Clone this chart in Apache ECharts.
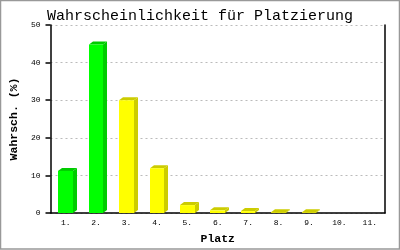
<!DOCTYPE html>
<html><head><meta charset="utf-8">
<script src="https://cdn.jsdelivr.net/npm/echarts@6/dist/echarts.min.js"></script>
<style>html,body{margin:0;padding:0;background:#fff}#c{width:400px;height:250px}</style>
</head><body><div id="c"></div>
<script>
const categories = ['1.','2.','3.','4.','5.','6.','7.','8.','9.','10.','11.'];
const values = [11.2, 44.8, 30.0, 11.9, 2.1, 0.7, 0.5, 0.2, 0.2, 0, 0];
const yTicks = [0, 10, 20, 30, 40, 50];
const greenCount = 2;

const chart = echarts.init(document.getElementById('c'), null, {renderer:'canvas'});
const mono = 'Liberation Mono, DejaVu Sans Mono, monospace';

function renderItem(params, api){
  const i = api.value(0), v = api.value(1);
  if (!v) return null;
  const base = api.coord([i, 0]);
  const top = api.coord([i, v]);
  const bw = api.size([1, 0])[0] * 0.48;
  const dx = 4, dy = 3;
  const l = Math.round(base[0] - bw/2), r = Math.round(base[0] + bw/2);
  const b = base[1], t = top[1];
  const green = params.dataIndex < greenCount;
  const front = green ? '#00ff00' : '#ffff00';
  const dark = green ? '#00cc00' : '#cccc00';
  return {type:'group', children:[
    {type:'polygon', shape:{points:[[r,b],[r+dx,b-dy],[r+dx,t-dy],[r,t]]}, style:{fill:dark}},
    {type:'polygon', shape:{points:[[l,t],[l+dx,t-dy],[r+dx,t-dy],[r,t]]}, style:{fill:dark}},
    {type:'rect', shape:{x:l, y:t, width:r-l, height:b-t}, style:{fill:front}}
  ]};
}

chart.setOption({
  animation:false,
  backgroundColor:'#fff',
  title:{text:'Wahrscheinlichkeit für Platzierung', left:'center', top:4,
    textStyle:{fontFamily:mono, fontSize:15, fontWeight:'normal', color:'#000'}},
  grid:{left:43, right:15, top:25, bottom:36},
  graphic:[{type:'rect', shape:{x:0.5,y:0.5,width:399,height:248.5}, style:{fill:'none', stroke:'#999', lineWidth:1.5}, silent:true}],
  xAxis:{type:'category', data:categories,
    name:'Platz', nameLocation:'middle', nameGap:20,
    nameTextStyle:{fontFamily:mono, fontSize:11.5, fontWeight:'bold', color:'#000'},
    axisLine:{lineStyle:{color:'#000', width:1.5}}, axisTick:{show:false},
    axisLabel:{fontFamily:mono, fontSize:8, color:'#000', margin:6}},
  yAxis:[{type:'value', min:yTicks[0], max:yTicks[yTicks.length-1], interval:10,
    name:'Wahrsch. (%)', nameLocation:'middle', nameGap:29,
    nameTextStyle:{fontFamily:mono, fontSize:11.5, fontWeight:'bold', color:'#000'},
    axisLine:{show:true, lineStyle:{color:'#000', width:1.5}},
    axisTick:{show:true, inside:false, length:5, lineStyle:{color:'#000', width:1.5}},
    axisLabel:{fontFamily:mono, fontSize:8, color:'#000', margin:10},
    splitLine:{show:true, lineStyle:{color:'#bbb', type:[2,3], width:1}}},
   {type:'value', position:'right', min:0, max:50, interval:10,
    axisLine:{show:true, lineStyle:{color:'#000', width:1.5}},
    axisTick:{show:false}, axisLabel:{show:false}, splitLine:{show:false}}],
  series:[{type:'custom', renderItem:renderItem, clip:false,
    encode:{x:0, y:1}, data: values.map((v,i)=>[i, v])}]
});
</script></body></html>
